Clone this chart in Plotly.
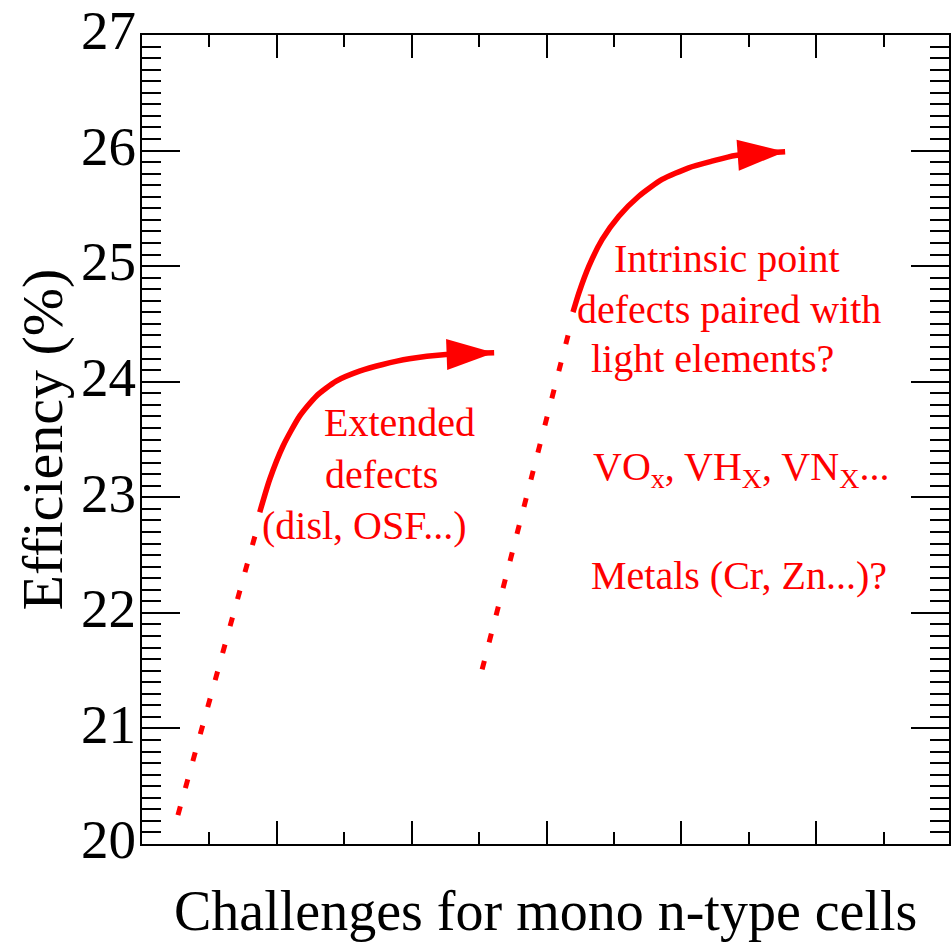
import plotly.graph_objects as go

FONT = "Liberation Serif, Times New Roman, serif"
RED = "#ff0000"
BLACK = "#000000"

# Efficiency trajectories: x is an arbitrary progress scale, y is cell efficiency (%)
early_dotted_x = [0.533, 1.701]
early_dotted_y = [20.25, 22.72]
early_curve_x = [1.746, 1.893, 2.090, 2.337, 2.584, 2.880, 3.225, 3.570, 3.964, 4.507, 5.222]
early_curve_y = [22.871, 23.154, 23.442, 23.702, 23.875, 24.005, 24.091, 24.149, 24.198, 24.235, 24.250]

late_dotted_x = [5.044, 6.361]
late_dotted_y = [21.51, 24.50]
late_curve_x = [6.391, 6.479, 6.627, 6.824, 7.071, 7.367, 7.712, 8.107, 8.451, 8.797, 9.537]
late_curve_y = [24.602, 24.769, 25.000, 25.231, 25.432, 25.605, 25.750, 25.851, 25.908, 25.958, 25.990]

y_tick_values = [20, 21, 22, 23, 24, 25, 26, 27]
y_tick_labels = ["20", "21", "22", "23", "24", "25", "26", "27"]

x_title = "Challenges for mono n-type cells"
y_title = "Efficiency (%)"

# Red labels: (text, x, y) with the text's left edge at x
labels = [
    ("Extended", 2.663, 23.643),
    ("defects", 2.678, 23.193),
    ("(disl, OSF...)", 1.746, 22.752),
    ("Intrinsic point", 6.967, 25.062),
    ("defects paired with", 6.420, 24.629),
    ("light elements?", 6.627, 24.205),
    ("VO<sub>x</sub>, VH<sub>X</sub>, VN<sub>X</sub>...", 6.657, 23.245),
    ("Metals (Cr, Zn...)?", 6.627, 22.319),
]

fig = go.Figure()


def dotted(xs, ys):
    fig.add_trace(go.Scatter(
        x=xs, y=ys, mode="lines",
        line=dict(color=RED, width=5, dash="9px,19px"),
        hoverinfo="skip",
    ))


def arrow_curve(xs, ys):
    sizes = [0] * (len(xs) - 1) + [50]
    fig.add_trace(go.Scatter(
        x=xs, y=ys, mode="lines+markers",
        line=dict(color=RED, width=5.5, shape="spline", smoothing=0.6),
        marker=dict(symbol="arrow", angleref="previous", size=sizes,
                    color=RED, opacity=1, line=dict(width=0)),
        opacity=1,
        hoverinfo="skip",
    ))


dotted(early_dotted_x, early_dotted_y)
arrow_curve(early_curve_x, early_curve_y)
dotted(late_dotted_x, late_dotted_y)
arrow_curve(late_curve_x, late_curve_y)

annotations = []
for text, x, y in labels:
    annotations.append(dict(
        text=text, x=x, y=y, xref="x", yref="y",
        xanchor="left", yanchor="middle", showarrow=False,
        font=dict(family=FONT, size=40, color=RED),
    ))

annotations.append(dict(
    text=x_title, xref="paper", yref="paper", x=0.5, y=0,
    xanchor="center", yanchor="middle", yshift=-66.5, showarrow=False,
    font=dict(family=FONT, size=56, color=BLACK),
))
annotations.append(dict(
    text=y_title, xref="paper", yref="paper", x=0, y=0.5,
    xanchor="center", yanchor="middle", xshift=-100, textangle=-90,
    showarrow=False,
    font=dict(family=FONT, size=58, color=BLACK),
))

fig.update_layout(
    width=951, height=943,
    margin=dict(l=142, r=0, t=35, b=99),
    paper_bgcolor="white", plot_bgcolor="white",
    showlegend=False,
    annotations=annotations,
    xaxis=dict(
        range=[0, 11.967], showgrid=False, zeroline=False,
        showline=True, linecolor=BLACK, linewidth=2, mirror="ticks",
        ticks="inside", ticklen=23, tickwidth=2, tickcolor=BLACK,
        tick0=0, dtick=2, showticklabels=False,
        minor=dict(ticks="inside", dtick=1, ticklen=12, tickwidth=2,
                   tickcolor=BLACK, showgrid=False),
    ),
    yaxis=dict(
        range=[20, 27], showgrid=False, zeroline=False,
        showline=True, linecolor=BLACK, linewidth=2, mirror="ticks",
        ticks="inside", ticklen=38, tickwidth=2, tickcolor=BLACK,
        tickmode="array", tickvals=y_tick_values, ticktext=y_tick_labels,
        tickfont=dict(family=FONT, size=55, color=BLACK),
        ticklabelshift=-5, ticklabelstandoff=-7,
        minor=dict(ticks="inside", dtick=0.1, ticklen=19, tickwidth=2,
                   tickcolor=BLACK, showgrid=False),
    ),
)

fig.write_html("out.html")
